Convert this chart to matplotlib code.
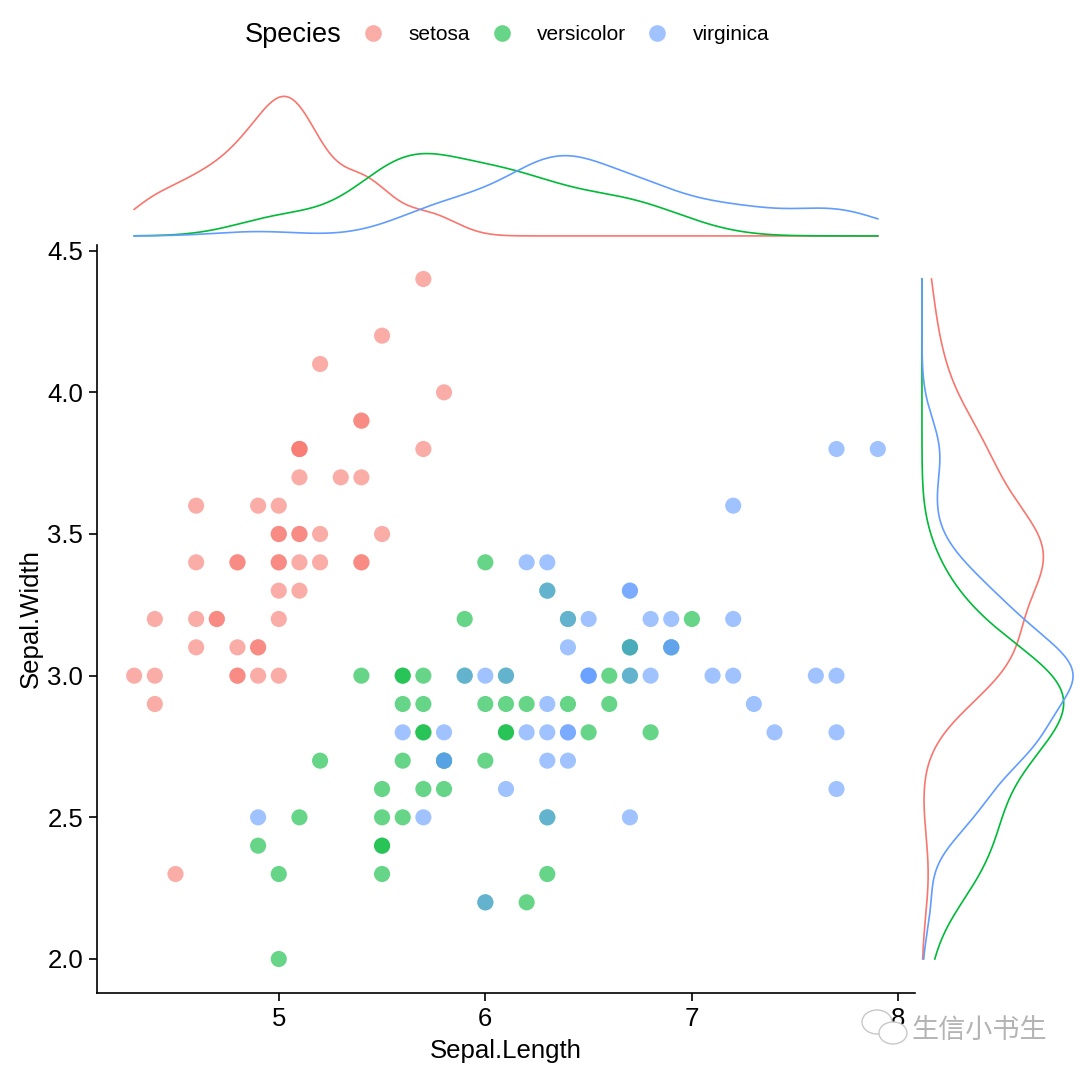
import numpy as np
import matplotlib.pyplot as plt
from matplotlib.lines import Line2D
from matplotlib.patches import Ellipse

plt.rcParams['font.family'] = ['Liberation Sans', 'DejaVu Sans']

# iris sepal measurements
setosa_len = [5.1, 4.9, 4.7, 4.6, 5.0, 5.4, 4.6, 5.0, 4.4, 4.9, 5.4, 4.8, 4.8, 4.3, 5.8, 5.7, 5.4,
              5.1, 5.7, 5.1, 5.4, 5.1, 4.6, 5.1, 4.8, 5.0, 5.0, 5.2, 5.2, 4.7, 4.8, 5.4, 5.2, 5.5,
              4.9, 5.0, 5.5, 4.9, 4.4, 5.1, 5.0, 4.5, 4.4, 5.0, 5.1, 4.8, 5.1, 4.6, 5.3, 5.0]
setosa_wid = [3.5, 3.0, 3.2, 3.1, 3.6, 3.9, 3.4, 3.4, 2.9, 3.1, 3.7, 3.4, 3.0, 3.0, 4.0, 4.4, 3.9,
              3.5, 3.8, 3.8, 3.4, 3.7, 3.6, 3.3, 3.4, 3.0, 3.4, 3.5, 3.4, 3.2, 3.1, 3.4, 4.1, 4.2,
              3.1, 3.2, 3.5, 3.6, 3.0, 3.4, 3.5, 2.3, 3.2, 3.5, 3.8, 3.0, 3.8, 3.2, 3.7, 3.3]
versicolor_len = [7.0, 6.4, 6.9, 5.5, 6.5, 5.7, 6.3, 4.9, 6.6, 5.2, 5.0, 5.9, 6.0, 6.1, 5.6, 6.7, 5.6,
                  5.8, 6.2, 5.6, 5.9, 6.1, 6.3, 6.1, 6.4, 6.6, 6.8, 6.7, 6.0, 5.7, 5.5, 5.5, 5.8, 6.0,
                  5.4, 6.0, 6.7, 6.3, 5.6, 5.5, 5.5, 6.1, 5.8, 5.0, 5.6, 5.7, 5.7, 6.2, 5.1, 5.7]
versicolor_wid = [3.2, 3.2, 3.1, 2.3, 2.8, 2.8, 3.3, 2.4, 2.9, 2.7, 2.0, 3.0, 2.2, 2.9, 2.9, 3.1, 3.0,
                  2.7, 2.2, 2.5, 3.2, 2.8, 2.5, 2.8, 2.9, 3.0, 2.8, 3.0, 2.9, 2.6, 2.4, 2.4, 2.7, 2.7,
                  3.0, 3.4, 3.1, 2.3, 3.0, 2.5, 2.6, 3.0, 2.6, 2.3, 2.7, 3.0, 2.9, 2.9, 2.5, 2.8]
virginica_len = [6.3, 5.8, 7.1, 6.3, 6.5, 7.6, 4.9, 7.3, 6.7, 7.2, 6.5, 6.4, 6.8, 5.7, 5.8, 6.4, 6.5,
                 7.7, 7.7, 6.0, 6.9, 5.6, 7.7, 6.3, 6.7, 7.2, 6.2, 6.1, 6.4, 7.2, 7.4, 7.9, 6.4, 6.3,
                 6.1, 7.7, 6.3, 6.4, 6.0, 6.9, 6.7, 6.9, 5.8, 6.8, 6.7, 6.7, 6.3, 6.5, 6.2, 5.9]
virginica_wid = [3.3, 2.7, 3.0, 2.9, 3.0, 3.0, 2.5, 2.9, 2.5, 3.6, 3.2, 2.7, 3.0, 2.5, 2.8, 3.2, 3.0,
                 3.8, 2.6, 2.2, 3.2, 2.8, 2.8, 2.7, 3.3, 3.2, 2.8, 3.0, 2.8, 3.0, 2.8, 3.8, 2.8, 2.8,
                 2.6, 3.0, 3.4, 3.1, 3.0, 3.1, 3.1, 3.1, 2.7, 3.2, 3.3, 3.0, 2.5, 3.0, 3.4, 3.0]

species = ['setosa', 'versicolor', 'virginica']
colors = ['#F8766D', '#00BA38', '#619CFF']
lengths = [setosa_len, versicolor_len, virginica_len]
widths = [setosa_wid, versicolor_wid, virginica_wid]


def bw_nrd0(x):
    x = np.asarray(x)
    sd = x.std(ddof=1)
    iqr = np.subtract(*np.percentile(x, [75, 25]))
    return 0.9 * min(sd, iqr / 1.34) * len(x) ** (-0.2)


def kde(x, grid):
    x = np.asarray(x)
    h = bw_nrd0(x)
    z = (grid[:, None] - x[None, :]) / h
    return np.exp(-0.5 * z ** 2).sum(axis=1) / (len(x) * h * np.sqrt(2 * np.pi))


all_len = np.concatenate(lengths)
all_wid = np.concatenate(widths)
gx = np.linspace(all_len.min(), all_len.max(), 512)
gy = np.linspace(all_wid.min(), all_wid.max(), 512)

fig = plt.figure(figsize=(10.8, 10.8), dpi=100)
W = 1080.0
ax = fig.add_axes([97 / W, 1 - 993 / W, (915 - 97) / W, (993 - 245) / W])
axt = fig.add_axes([97 / W, 1 - 245 / W, (915 - 97) / W, (245 - 88) / W], sharex=ax)
axr = fig.add_axes([915 / W, 1 - 993 / W, (1080 - 915) / W, (993 - 245) / W], sharey=ax)

for sp, c, xl, yw in zip(species, colors, lengths, widths):
    ax.scatter(xl, yw, s=135, color=c, alpha=0.6, edgecolors='none', label=sp)

top_d = [kde(xl, gx) for xl in lengths]
right_d = [kde(yw, gy) for yw in widths]
for c, d in zip(colors, top_d):
    axt.plot(gx, d, color=c, lw=1.2)
for c, d in zip(colors, right_d):
    axr.plot(d, gy, color=c, lw=1.2)

P = max(d.max() for d in top_d)
axt.set_ylim(-0.065 * P, 1.06 * P)
M = max(d.max() for d in right_d)
axr.set_xlim(-0.046 * M, 1.046 * M)

rng = all_len.max() - all_len.min()
ax.set_xlim(all_len.min() - 0.05 * rng, all_len.max() + 0.05 * rng)
rng = all_wid.max() - all_wid.min()
ax.set_ylim(all_wid.min() - 0.05 * rng, all_wid.max() + 0.05 * rng)
ax.set_xticks([5, 6, 7, 8])
ax.set_yticks([2.0, 2.5, 3.0, 3.5, 4.0, 4.5])
ax.set_yticklabels(['2.0', '2.5', '3.0', '3.5', '4.0', '4.5'])

for s in ['top', 'right']:
    ax.spines[s].set_visible(False)
for s in ['left', 'bottom']:
    ax.spines[s].set_linewidth(1.2)
ax.tick_params(labelsize=18.5, width=1.2, length=6, color='black', labelcolor='black', pad=4)
ax.set_xlabel('Sepal.Length', fontsize=18.5, labelpad=6)
ax.set_ylabel('Sepal.Width', fontsize=18.5, labelpad=3)

for a in (axt, axr):
    a.axis('off')

fig.text(245 / W, 1 - 35 / W, 'Species', fontsize=19.5, va='center', ha='left')
handles = [Line2D([], [], marker='o', ls='none', color=c, alpha=0.6, markersize=12,
                  markeredgewidth=0) for c in colors]
fig.legend(handles, species, loc='center left', bbox_to_anchor=(363 / W, 1 - 35 / W),
           ncol=3, frameon=False, fontsize=15, handlelength=1.0, handletextpad=1.2,
           columnspacing=1.0, borderaxespad=0, borderpad=0)

# watermark
for (cx, cy, w, h) in [(877, 1022, 30, 24), (893, 1033, 28, 22)]:
    fig.add_artist(Ellipse((cx / W, 1 - cy / W), w / W, h / W, transform=fig.transFigure,
                           facecolor='white', edgecolor='#c8c8c8', lw=1.0))
fig.text(912 / W, 1 - 1030 / W, '生信小书生', fontsize=19.5, color='#b4b4b4', va='center',
         ha='left', family=['Noto Sans CJK SC', 'DejaVu Sans'], fontweight='light')

fig.savefig('out.png', dpi=100)
